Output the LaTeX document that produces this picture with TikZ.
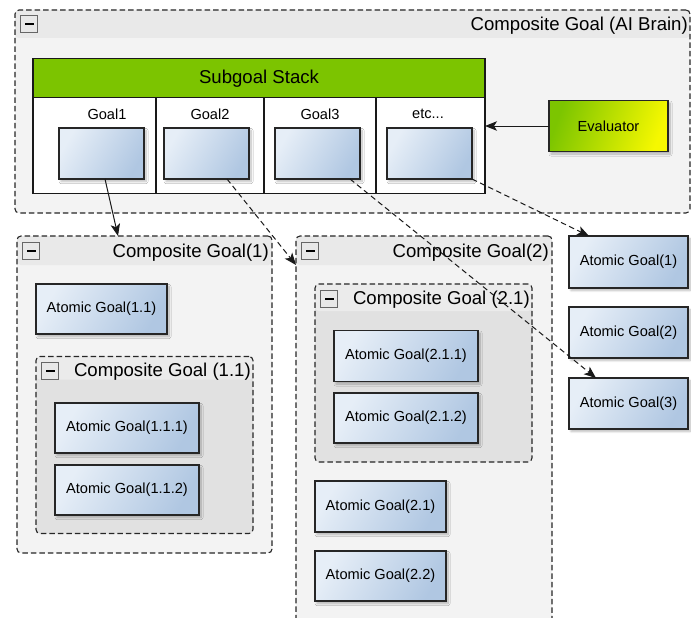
\documentclass[tikz,border=0pt]{standalone}
\usepackage{fontspec}
\setmainfont{Liberation Sans}
\usetikzlibrary{arrows.meta,shadows.blur}

\definecolor{bodygray}{HTML}{F3F3F3}
\definecolor{headgray}{HTML}{E9E9E9}
\definecolor{innerbody}{HTML}{E1E1E1}
\definecolor{innerhead}{HTML}{EBEBEB}
\definecolor{stackgreen}{HTML}{7CC400}
\definecolor{evalgreen}{HTML}{7CC500}
\definecolor{evalyellow}{HTML}{F6F800}
\definecolor{atomlight}{HTML}{E6EEF7}
\definecolor{atomdark}{HTML}{B0C7E2}
\definecolor{edgegray}{HTML}{262626}

\tikzset{
  titlefont/.style={font=\fontsize{18.6}{21}\selectfont},
  labelfont/.style={font=\fontsize{14.6}{17}\selectfont},
  composite/.style n args={3}{draw=edgegray, line width=1.1pt,
    dash pattern=on 5.5pt off 3pt, rounded corners=4pt, fill=#2,
    inner sep=0pt, outer sep=0pt,
    path picture={\fill[#3] (path picture bounding box.north west)
      rectangle ([yshift=-#1]path picture bounding box.north east);}},
  compositetitle/.style={titlefont, anchor=east, inner sep=0pt},
  minusbox/.style={draw=black!60, fill=black!9, line width=0.8pt,
    minimum size=17pt, inner sep=0pt,
    path picture={\fill[black]
      ([xshift=-4.5pt,yshift=-1.3pt]path picture bounding box.center)
      rectangle ([xshift=4.5pt,yshift=1.3pt]path picture bounding box.center);}},
  softshadow/.style={blur shadow={shadow xshift=2pt, shadow yshift=-2.5pt,
      shadow blur steps=10, shadow blur radius=2pt, shadow opacity=28}},
  atomic/.style={draw=edgegray, line width=1.1pt, labelfont,
    top color=atomlight, bottom color=atomdark, shading angle=60,
    inner sep=0pt, outer sep=0pt, softshadow},
  evalbox/.style={draw=edgegray, line width=1.1pt, labelfont,
    top color=evalgreen, bottom color=evalyellow, shading angle=70,
    inner sep=0pt, outer sep=0pt, softshadow},
  stackframe/.style={draw=black!90, line width=1.5pt, fill=white,
    inner sep=0pt, outer sep=0pt},
  stackhead/.style={draw=black!90, line width=1.5pt, fill=stackgreen,
    titlefont, inner sep=0pt, outer sep=0pt},
  divider/.style={draw=black!90, line width=1.3pt},
  collabel/.style={labelfont, inner sep=0pt},
  link/.style={draw=black!90, line width=1pt,
    -{Stealth[length=12pt,width=9.5pt,inset=3pt]}},
  dashedlink/.style={link, dash pattern=on 5.5pt off 3.5pt},
}

\begin{document}
\begin{tikzpicture}[x=1pt,y=-1pt]
\useasboundingbox (0,0) rectangle (691,618);

% ---- top-level composite goal ----
\node[composite={28pt}{bodygray}{headgray},
      minimum width=675pt, minimum height=203pt] (brain) at (352.5,111.5) {};
\node[compositetitle] (brainT) at (688,26) {Composite Goal (AI Brain)};
\node[minusbox] (brainM) at (29,24) {};

% ---- subgoal stack ----
\node[stackframe, minimum width=452pt, minimum height=135pt] (stack) at (259,126) {};
\node[stackhead, minimum width=452pt, minimum height=39pt, anchor=north]
  (stackH) at (stack.north) {};
\node[titlefont, inner sep=0pt] (stackT) at (259,79) {Subgoal Stack};
\coordinate (d1) at (156,97);
\coordinate (d2) at (264,97);
\coordinate (d3) at (376,97);
\draw[divider] (d1) -- (d1 |- stack.south);
\draw[divider] (d2) -- (d2 |- stack.south);
\draw[divider] (d3) -- (d3 |- stack.south);

\node[collabel] (l1) at (107,114) {Goal1};
\node[collabel] (l2) at (210,114) {Goal2};
\node[collabel] (l3) at (320,114) {Goal3};
\node[collabel] (l4) at (428,114) {etc...};

\node[atomic, minimum width=85pt, minimum height=51pt] (g1) at (101.5,153.5) {};
\node[atomic, minimum width=85pt, minimum height=51pt] (g2) at (206.5,153.5) {};
\node[atomic, minimum width=85pt, minimum height=51pt] (g3) at (317.5,153.5) {};
\node[atomic, minimum width=85pt, minimum height=51pt] (g4) at (429.5,153.5) {};

% ---- evaluator ----
\node[evalbox, minimum width=119pt, minimum height=51pt] (eval) at (608.5,126) {Evaluator};
\draw[link] (eval.west) -- (eval.west -| stack.east);

% ---- composite goal 1 ----
\node[composite={29pt}{bodygray}{headgray},
      minimum width=255pt, minimum height=317pt] (c1) at (144.5,394.5) {};
\node[compositetitle] (c1T) at (269,253) {Composite Goal(1)};
\node[minusbox] (c1M) at (31,251) {};
\node[atomic, minimum width=131pt, minimum height=50pt] (a11) at (101.5,309) {Atomic Goal(1.1)};

\node[composite={23pt}{innerbody}{innerhead},
      minimum width=217pt, minimum height=177pt] (c11) at (144.5,445) {};
\node[compositetitle] (c11T) at (251,372) {Composite Goal (1.1)};
\node[minusbox] (c11M) at (50,371) {};
\node[atomic, minimum width=144pt, minimum height=50pt] (a111) at (127,428) {Atomic Goal(1.1.1)};
\node[atomic, minimum width=144pt, minimum height=50pt] (a112) at (127,490) {Atomic Goal(1.1.2)};

% ---- composite goal 2 ----
\node[composite={29pt}{bodygray}{headgray},
      minimum width=256pt, minimum height=392pt] (c2) at (424,432) {};
\node[compositetitle] (c2T) at (549,253) {Composite Goal(2)};
\node[minusbox] (c2M) at (310,251) {};

\node[composite={27pt}{innerbody}{innerhead},
      minimum width=217pt, minimum height=178pt] (c21) at (423.5,373) {};
\node[compositetitle] (c21T) at (530,300) {Composite Goal (2.1)};
\node[minusbox] (c21M) at (329,299) {};
\node[atomic, minimum width=144pt, minimum height=51pt] (a211) at (406,356) {Atomic Goal(2.1.1)};
\node[atomic, minimum width=144pt, minimum height=50pt] (a212) at (406,418) {Atomic Goal(2.1.2)};

\node[atomic, minimum width=131pt, minimum height=51pt] (a21) at (380.5,506.5) {Atomic Goal(2.1)};
\node[atomic, minimum width=131pt, minimum height=50pt] (a22) at (380.5,576) {Atomic Goal(2.2)};

% ---- free atomic goals ----
\node[atomic, minimum width=119pt, minimum height=52pt] (a1) at (628.5,262) {Atomic Goal(1)};
\node[atomic, minimum width=119pt, minimum height=51pt] (a2) at (628.5,332.5) {Atomic Goal(2)};
\node[atomic, minimum width=119pt, minimum height=51pt] (a3) at (628.5,403.5) {Atomic Goal(3)};

% ---- links from the stack entries ----
\draw[link] ([xshift=3.5pt]g1.south) -- ([xshift=-26.5pt]c1.north);
\draw[dashedlink] ([xshift=20.5pt]g2.south) -- ([yshift=-29pt]c2.north west);
\draw[dashedlink] ([xshift=-10pt]g3.south east) -- ([xshift=27pt]a3.north west);
\draw[dashedlink] (g4.south east) -- ([xshift=20pt]a1.north west);
\end{tikzpicture}
\end{document}
